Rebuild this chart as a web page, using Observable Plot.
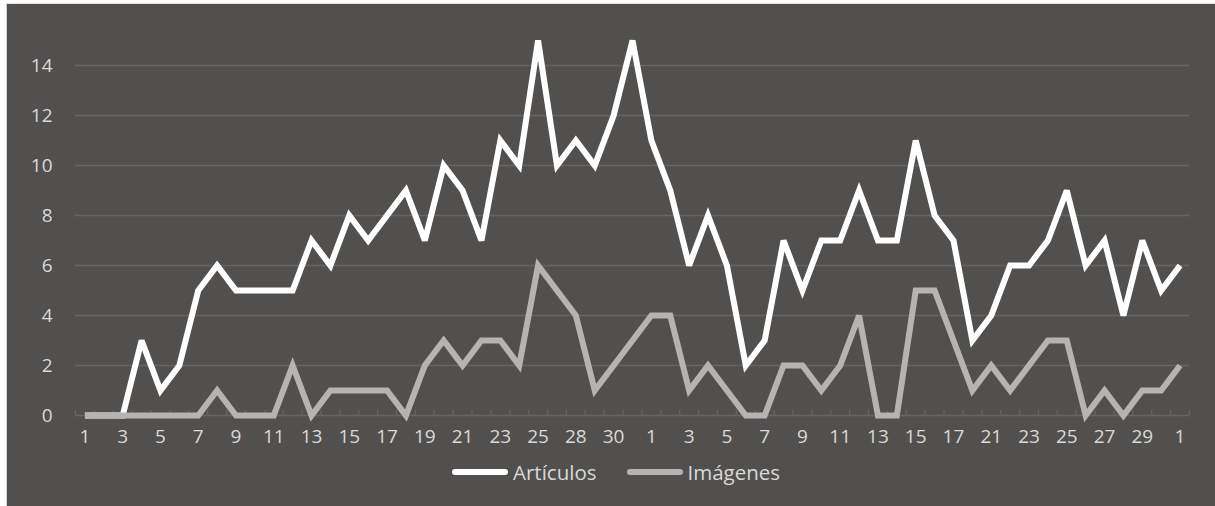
<!DOCTYPE html>
<html>
<head>
<meta charset="utf-8">
<script src="https://cdn.jsdelivr.net/npm/d3@7"></script>
<script src="https://cdn.jsdelivr.net/npm/@observablehq/plot@0.6"></script>
<style>
  html, body { margin: 0; padding: 0; background: #ffffff; }
  body { width: 1215px; height: 506px; position: relative; overflow: hidden; }
  #bg { position: absolute; left: 6px; top: 3px; right: 0; bottom: 0; background: #51504e; border-left: 1px solid #d0d0d0; border-top: 1px solid #e4e4e4; }
  #chart { position: absolute; left: 0; top: 0; }
  #legend { position: absolute; left: 452px; top: 459px; height: 26px; display: flex; align-items: center;
    font-family: "Open Sans", sans-serif; font-size: 20.5px; color: #d9d9d9; }
  .sw { width: 56px; height: 6px; border-radius: 3px; margin-right: 5px; }
  .item { display: flex; align-items: center; }
  .item + .item { margin-left: 30px; }
</style>
</head>
<body>
<div id="bg"></div>
<div id="chart"></div>
<div id="legend"></div>
<script>
// Category labels (day of month), one per data point; only every other one is shown
const dayLabels = [
  "1","2","3","4","5","6","7","8","9","10","11","12","13","14","15","16","17","18","19","20",
  "21","22","23","24","25","27","28","29","30","31",
  "1","2","3","4","5","6","7","8","9","10","11","12","13","14","15","16","17","19",
  "21","22","23","24","25","26","27","28","29","30","1"
];
const articulos = [
  0,0,0,3,1,2,5,6,5,5,5,5,7,6,8,7,8,9,7,10,
  9,7,11,10,15,10,11,10,12,15,
  11,9,6,8,6,2,3,7,5,7,7,9,7,7,11,8,7,3,
  4,6,6,7,9,6,7,4,7,5,6
];
const imagenes = [
  0,0,0,0,0,0,0,1,0,0,0,2,0,1,1,1,1,0,2,3,
  2,3,3,2,6,5,4,1,2,3,
  4,4,1,2,1,0,0,2,2,1,2,4,0,0,5,5,3,1,
  2,1,2,3,3,0,1,0,1,1,2
];
const seriesNames = ["Artículos", "Imágenes"];
const seriesColors = ["#ffffff", "#b5b4b3"];
const yTicks = [0, 2, 4, 6, 8, 10, 12, 14];

const idx = dayLabels.map((_, i) => i);
const rows = [];
idx.forEach(i => rows.push({i, v: articulos[i], s: seriesNames[0]}));
idx.forEach(i => rows.push({i, v: imagenes[i], s: seriesNames[1]}));
const evenIdx = idx.filter(i => i % 2 === 0);
const boundaries = [...idx.map(i => i - 0.5), idx.length - 0.5];

const textColor = "#d9d9d9";
const gridColor = "#676563";

const chart = Plot.plot({
  width: 1215,
  height: 450,
  marginLeft: 75,
  marginRight: 26,
  marginTop: 40,
  marginBottom: 35,
  style: { background: "transparent", fontFamily: "'Open Sans', sans-serif", fontSize: "19px", color: textColor },
  x: { type: "linear", domain: [-0.5, idx.length - 0.5] },
  y: { domain: [0, 15] },
  color: { domain: seriesNames, range: seriesColors },
  marks: [
    Plot.gridY(yTicks.filter(t => t > 0), { stroke: gridColor, strokeOpacity: 1, strokeWidth: 1.5 }),
    Plot.ruleY([0], { stroke: gridColor, strokeWidth: 1.5 }),
    Plot.tickX(boundaries, { x: d => d, stroke: gridColor, strokeWidth: 1.2, insetTop: 370 }),
    Plot.axisY(yTicks, { tickSize: 0, tickPadding: 23, fill: textColor, label: null, fontSize: 19 }),
    Plot.axisX(evenIdx, { tickSize: 0, tickPadding: 14, fill: textColor, label: null, fontSize: 19, tickFormat: i => dayLabels[i] }),
    Plot.line(rows.filter(r => r.s === seriesNames[0]), { x: "i", y: "v", stroke: seriesColors[0], strokeWidth: 6, strokeLinejoin: "miter", strokeMiterlimit: 3, strokeLinecap: "butt" }),
    Plot.line(rows.filter(r => r.s === seriesNames[1]), { x: "i", y: "v", stroke: seriesColors[1], strokeWidth: 6, strokeLinejoin: "miter", strokeMiterlimit: 3, strokeLinecap: "butt" })
  ]
});
document.getElementById("chart").appendChild(chart);

const legend = document.getElementById("legend");
seriesNames.forEach((name, k) => {
  const item = document.createElement("div");
  item.className = "item";
  const sw = document.createElement("div");
  sw.className = "sw";
  sw.style.background = seriesColors[k];
  const tx = document.createElement("span");
  tx.textContent = name;
  item.appendChild(sw);
  item.appendChild(tx);
  legend.appendChild(item);
});
</script>
</body>
</html>
